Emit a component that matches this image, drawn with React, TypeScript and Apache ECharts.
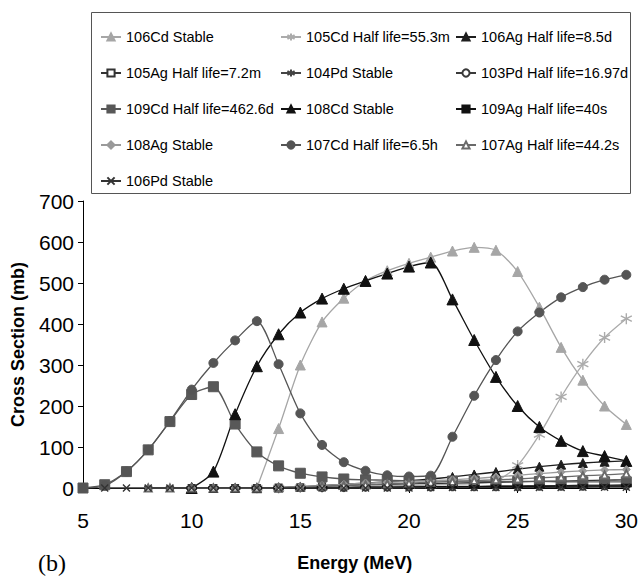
import React, { useEffect, useRef } from "react";
import * as echarts from "echarts";

// Incident energy grid (MeV)
const energies = [5, 6, 7, 8, 9, 10, 11, 12, 13, 14, 15, 16, 17, 18, 19, 20, 21, 22, 23, 24, 25, 26, 27, 28, 29, 30];

// Cross sections (mb), one value per energy; null where a channel is not yet open
const cd106 = [null, null, null, null, null, null, null, null, 0, 145, 300, 405, 463, 505, 530, 548, 563, 578, 587, 580, 528, 441, 343, 263, 200, 155];
const cd105 = [null, null, null, null, null, null, null, null, 0, 0, 1, 2, 3, 4, 5, 6, 7, 9, 11, 16, 55, 130, 222, 302, 367, 413];
const ag106 = [null, null, null, null, null, 0, 0, 0, 0, 1, 3, 6, 9, 12, 15, 18, 22, 27, 33, 39, 46, 52, 57, 61, 64, 66];
const ag105 = [null, null, null, null, null, 0, 0, 0, 0, 1, 2, 4, 6, 8, 9, 10, 11, 12, 13, 14, 15, 16, 17, 18, 19, 20];
const pd104 = [null, null, null, 0, 0, 0, 0, 0, 0, 0, 0, 1, 1, 2, 2, 3, 3, 4, 4, 5, 5, 6, 6, 7, 7, 8];
const pd103 = [null, null, null, null, null, 0, 0, 0, 0, 0, 0, 0, 0, 1, 1, 1, 1, 2, 2, 2, 2, 3, 3, 3, 4, 4];
const cd109 = [0, 8, 40, 93, 162, 228, 247, 156, 88, 54, 36, 27, 22, 20, 19, 18, 18, 17, 17, 16, 16, 16, 15, 15, 15, 15];
const cd108 = [null, null, null, null, null, 0, 40, 180, 297, 375, 428, 462, 486, 505, 523, 540, 550, 460, 361, 271, 200, 149, 115, 90, 78, 66];
const ag109 = [null, null, null, null, null, 0, 0, 0, 0, 0, 0, 1, 1, 2, 2, 2, 3, 3, 3, 4, 4, 4, 5, 5, 5, 6];
const ag108 = [null, null, null, null, null, 0, 0, 0, 0, 1, 3, 6, 9, 12, 14, 16, 18, 20, 23, 27, 31, 35, 39, 42, 44, 45];
const cd107 = [0, 5, 40, 93, 163, 240, 305, 360, 407, 302, 182, 105, 63, 42, 31, 28, 30, 125, 225, 312, 382, 428, 465, 490, 508, 520];
const ag107 = [null, null, null, 0, 0, 0, 0, 0, 0, 1, 2, 4, 6, 8, 10, 12, 14, 16, 18, 20, 22, 25, 27, 30, 32, 35];
const pd106 = [null, 0, 0, 0, 0, 0, 0, 0, 0, 0, 0, 0, 0, 0, 0, 0, 1, 1, 1, 1, 1, 1, 1, 2, 2, 2];

// Axis ticks
const xTicks = { min: 5, max: 30, interval: 5 };
const yTicks = { min: 0, max: 700, interval: 100 };

const ASTERISK = "path://M0,-6L0,6M-5.2,-3L5.2,3M-5.2,3L5.2,-3";
const CROSS = "path://M-5,-5L5,5M-5,5L5,-5";

type Spec = {
  name: string;
  values: (number | null)[];
  color: string;
  symbol: string;
  size: number | number[];
  stroke?: boolean;
};

const specs: Spec[] = [
  { name: "106Cd Stable", values: cd106, color: "#a6a6a6", symbol: "triangle", size: 10 },
  { name: "105Cd Half life=55.3m", values: cd105, color: "#ababab", symbol: ASTERISK, size: 11, stroke: true },
  { name: "106Ag Half life=8.5d", values: ag106, color: "#1e1e1e", symbol: "triangle", size: 9 },
  { name: "105Ag Half life=7.2m", values: ag105, color: "#333333", symbol: "emptyRect", size: 6 },
  { name: "104Pd Stable", values: pd104, color: "#444444", symbol: ASTERISK, size: 8, stroke: true },
  { name: "103Pd Half life=16.97d", values: pd103, color: "#3a3a3a", symbol: "emptyCircle", size: 6 },
  { name: "109Cd Half life=462.6d", values: cd109, color: "#585858", symbol: "rect", size: 10 },
  { name: "108Cd Stable", values: cd108, color: "#111111", symbol: "triangle", size: 11 },
  { name: "109Ag Half life=40s", values: ag109, color: "#111111", symbol: "rect", size: [9, 3] },
  { name: "108Ag Stable", values: ag108, color: "#9a9a9a", symbol: "diamond", size: 8 },
  { name: "107Cd Half life=6.5h", values: cd107, color: "#555555", symbol: "circle", size: 9 },
  { name: "107Ag Half life=44.2s", values: ag107, color: "#6a6a6a", symbol: "emptyTriangle", size: 7 },
  { name: "106Pd Stable", values: pd106, color: "#333333", symbol: CROSS, size: 7, stroke: true },
];

const FONT = '"Liberation Sans", Arial, sans-serif';

export default function App() {
  const ref = useRef<HTMLDivElement>(null);

  useEffect(() => {
    if (!ref.current) return;
    const chart = echarts.init(ref.current, undefined, { renderer: "svg" });

    const series = specs.map((s) => ({
      name: s.name,
      type: "line",
      smooth: 0.25,
      data: energies
        .map((e, i) => [e, s.values[i]])
        .filter((p) => p[1] !== null),
      symbol: s.symbol,
      symbolSize: s.size,
      showAllSymbol: true,
      lineStyle: { color: s.color, width: 1.3 },
      itemStyle: s.stroke
        ? { color: s.color, borderColor: s.color, borderWidth: 1.4 }
        : { color: s.color, borderColor: s.color, borderWidth: 1 },
      emphasis: { disabled: true },
      z: 2,
    }));

    const legendBase = {
      orient: "vertical",
      itemWidth: 20,
      itemHeight: 9,
      itemGap: 20,
      textStyle: { fontFamily: FONT, fontSize: 14.5, color: "#000", lineHeight: 16 },
      selectedMode: false,
      top: 24,
    };

    chart.setOption({
      animation: false,
      backgroundColor: "#fff",
      textStyle: { fontFamily: FONT },
      grid: { left: 83, right: 11, top: 201, bottom: 92, containLabel: false },
      legend: [
        { ...legendBase, left: 95, data: [specs[0].name, specs[3].name, specs[6].name, specs[9].name, specs[12].name] },
        { ...legendBase, left: 275, data: [specs[1].name, specs[4].name, specs[7].name, specs[10].name] },
        { ...legendBase, left: 450, data: [specs[2].name, specs[5].name, specs[8].name, specs[11].name] },
      ],
      xAxis: {
        type: "value",
        min: xTicks.min,
        max: xTicks.max,
        interval: xTicks.interval,
        name: "Energy (MeV)",
        nameLocation: "middle",
        nameGap: 66,
        nameTextStyle: { fontFamily: FONT, fontSize: 18, fontWeight: "bold", color: "#000" },
        axisLine: { lineStyle: { color: "#000", width: 1 } },
        axisTick: { show: true, length: 5, lineStyle: { color: "#000" } },
        axisLabel: { fontFamily: FONT, fontSize: 21, color: "#000", margin: 22 },
        splitLine: { show: false },
      },
      yAxis: {
        type: "value",
        min: yTicks.min,
        max: yTicks.max,
        interval: yTicks.interval,
        name: "Cross Section (mb)",
        nameLocation: "middle",
        nameRotate: 90,
        nameGap: 56,
        nameTextStyle: { fontFamily: FONT, fontSize: 18, fontWeight: "bold", color: "#000" },
        axisLine: { show: true, lineStyle: { color: "#000", width: 1 } },
        axisTick: { show: true, length: 5, lineStyle: { color: "#000" } },
        axisLabel: { fontFamily: FONT, fontSize: 21, color: "#000", margin: 9 },
        splitLine: { show: false },
      },
      graphic: [
        {
          type: "rect",
          shape: { x: 91.5, y: 12.5, width: 539, height: 181 },
          style: { fill: "none", stroke: "#555", lineWidth: 1 },
          z: 0,
        },
        {
          type: "text",
          left: 38,
          top: 551,
          style: { text: "(b)", font: '24px "Liberation Serif", "DejaVu Serif", serif', fill: "#000" },
        },
      ],
      series,
    });

    return () => chart.dispose();
  }, []);

  return <div ref={ref} style={{ width: 641, height: 580, position: "fixed", left: 0, top: 0 }} />;
}
